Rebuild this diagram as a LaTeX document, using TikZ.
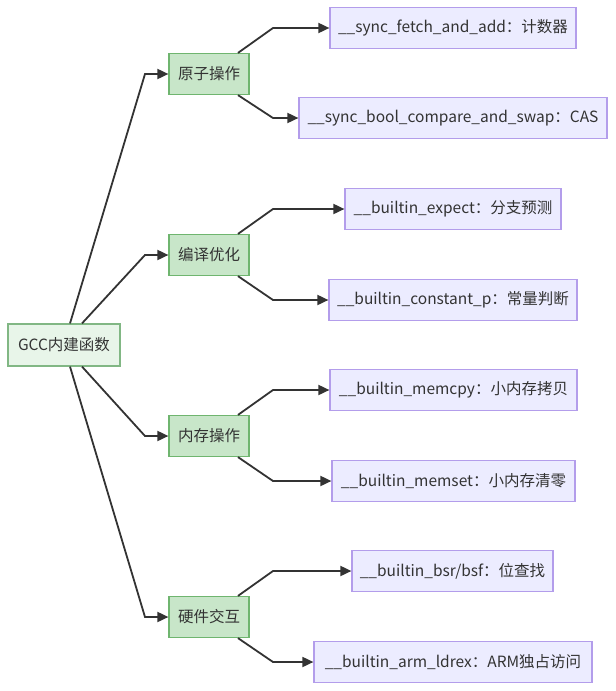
\documentclass[tikz,border=0pt]{standalone}
\usepackage{fontspec}
\setmainfont{Noto Sans CJK SC}
\usetikzlibrary{arrows.meta}
\definecolor{gccText}{HTML}{333333}
\definecolor{gccRootFill}{HTML}{E8F5E9}
\definecolor{gccRootLine}{HTML}{81B784}
\definecolor{gccCatFill}{HTML}{C8E6C9}
\definecolor{gccCatLine}{HTML}{6FB56F}
\definecolor{gccLeafFill}{HTML}{ECECFF}
\definecolor{gccLeafLine}{HTML}{B39DEB}

\begin{document}
\begin{tikzpicture}[x=1pt, y=-1pt,
    box/.style={draw, line width=1.2pt, inner sep=0pt, minimum height=41pt,
        text=gccText, font=\fontsize{15.5}{18}\selectfont},
    rootbox/.style={box, fill=gccRootFill, draw=gccRootLine},
    catbox/.style={box, fill=gccCatFill, draw=gccCatLine, minimum width=80pt},
    leafbox/.style={box, fill=gccLeafFill, draw=gccLeafLine},
    link/.style={draw=gccText, line width=1.8pt, -{Triangle[length=11pt, width=10pt]}}]
    \useasboundingbox (0,0) rectangle (616,691);

    % root and groups
    \node[rootbox, minimum width=112pt, minimum height=42pt] (root) at (64,345) {GCC内建函数};
    \node[catbox] (atomic) at (209,74) {原子操作};
    \node[catbox] (opt) at (209,255) {编译优化};
    \node[catbox] (mem) at (209,436) {内存操作};
    \node[catbox] (hw) at (209,617) {硬件交互};

    % leaves
    \node[leafbox, minimum width=246pt] (fetchadd) at (453,28) {\_\_sync\_fetch\_and\_add：计数器};
    \node[leafbox, minimum width=308pt] (cas) at (453,118) {\_\_sync\_bool\_compare\_and\_swap：CAS};
    \node[leafbox, minimum width=216pt] (expect) at (453,209) {\_\_builtin\_expect：分支预测};
    \node[leafbox, minimum width=248pt] (constp) at (453,300) {\_\_builtin\_constant\_p：常量判断};
    \node[leafbox, minimum width=247pt] (memcpy) at (453.5,390) {\_\_builtin\_memcpy：小内存拷贝};
    \node[leafbox, minimum width=243pt] (memset) at (453.5,481) {\_\_builtin\_memset：小内存清零};
    \node[leafbox, minimum width=201pt] (bsr) at (452.5,571) {\_\_builtin\_bsr/bsf：位查找};
    \node[leafbox, minimum width=278pt] (ldrex) at (453,662) {\_\_builtin\_arm\_ldrex：ARM独占访问};

    % root -> groups
    \draw[link] ([xshift=6pt]root.north) -- (145,0 |- atomic.west) -- (atomic.west);
    \draw[link] ([xshift=18pt]root.north) -- (145,0 |- opt.west) -- (opt.west);
    \draw[link] ([xshift=18pt]root.south) -- (145,0 |- mem.west) -- (mem.west);
    \draw[link] ([xshift=6pt]root.south) -- (145,0 |- hw.west) -- (hw.west);

    % groups -> leaves
    \draw[link] ([xshift=29pt]atomic.north) -- (273,0 |- fetchadd.west) -- (fetchadd.west);
    \draw[link] ([xshift=29pt]atomic.south) -- (273,0 |- cas.west) -- (cas.west);
    \draw[link] ([xshift=29pt]opt.north) -- (273,0 |- expect.west) -- (expect.west);
    \draw[link] ([xshift=29pt]opt.south) -- (273,0 |- constp.west) -- (constp.west);
    \draw[link] ([xshift=29pt]mem.north) -- (273,0 |- memcpy.west) -- (memcpy.west);
    \draw[link] ([xshift=29pt]mem.south) -- (273,0 |- memset.west) -- (memset.west);
    \draw[link] ([xshift=29pt]hw.north) -- (273,0 |- bsr.west) -- (bsr.west);
    \draw[link] ([xshift=29pt]hw.south) -- (273,0 |- ldrex.west) -- (ldrex.west);
\end{tikzpicture}
\end{document}
